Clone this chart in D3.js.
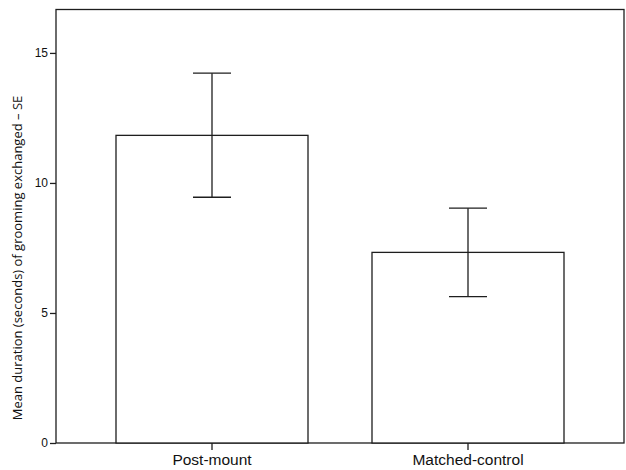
<!DOCTYPE html>
<html>
<head>
<meta charset="utf-8">
<script src="https://cdn.jsdelivr.net/npm/d3@7"></script>
<style>
  body { margin: 0; background: #fff; }
  svg { display: block; font-family: "Open Sans", "Noto Sans", sans-serif; }
</style>
</head>
<body>
<svg id="chart"></svg>
<script>
// values
var categories = ["Post-mount", "Matched-control"];
var means = [11.83, 7.33];
var seUpper = [14.22, 9.03];
var seLower = [9.45, 5.63];
var yTicks = [0, 5, 10, 15];
var yLabel = "Mean duration (seconds) of grooming exchanged \u2013 SE";

var width = 626;
var height = 470;
var frame = { left: 56, right: 624, top: 9.5, bottom: 443 };
var ink = "#1e1e1e";

var svg = d3.select("#chart").attr("width", width).attr("height", height);

var xscale = d3
  .scaleBand()
  .domain(categories)
  .range([84, 596])
  .paddingInner(0.25)
  .paddingOuter(0.125);
var yscale = d3.scaleLinear().domain([0, 16.67]).range([frame.bottom, frame.top]);

// plot frame
svg
  .append("rect")
  .attr("x", frame.left)
  .attr("y", frame.top)
  .attr("width", frame.right - frame.left)
  .attr("height", frame.bottom - frame.top)
  .attr("fill", "none")
  .attr("stroke", ink)
  .attr("stroke-width", 1.3);

// bars
svg
  .selectAll(".bar")
  .data(means)
  .enter()
  .append("rect")
  .attr("class", "bar")
  .attr("x", function (d, i) {
    return xscale(categories[i]);
  })
  .attr("y", function (d) {
    return yscale(d);
  })
  .attr("width", xscale.bandwidth())
  .attr("height", function (d) {
    return yscale(0) - yscale(d);
  })
  .attr("fill", "#fff")
  .attr("stroke", ink)
  .attr("stroke-width", 1.3);

// error bars
var capHalf = 19;
var err = svg
  .selectAll(".err")
  .data(categories)
  .enter()
  .append("g")
  .attr("class", "err")
  .attr("stroke", ink)
  .attr("stroke-width", 1.3);
err
  .append("line")
  .attr("x1", function (d) { return xscale(d) + xscale.bandwidth() / 2; })
  .attr("x2", function (d) { return xscale(d) + xscale.bandwidth() / 2; })
  .attr("y1", function (d, i) { return yscale(seUpper[i]); })
  .attr("y2", function (d, i) { return yscale(seLower[i]); });
err
  .append("line")
  .attr("x1", function (d) { return xscale(d) + xscale.bandwidth() / 2 - capHalf; })
  .attr("x2", function (d) { return xscale(d) + xscale.bandwidth() / 2 + capHalf; })
  .attr("y1", function (d, i) { return yscale(seUpper[i]); })
  .attr("y2", function (d, i) { return yscale(seUpper[i]); });
err
  .append("line")
  .attr("x1", function (d) { return xscale(d) + xscale.bandwidth() / 2 - capHalf; })
  .attr("x2", function (d) { return xscale(d) + xscale.bandwidth() / 2 + capHalf; })
  .attr("y1", function (d, i) { return yscale(seLower[i]); })
  .attr("y2", function (d, i) { return yscale(seLower[i]); });

// axes
var yaxis = d3.axisLeft(yscale).tickValues(yTicks).tickSize(6).tickPadding(2).tickFormat(d3.format("d"));
var gy = svg
  .append("g")
  .attr("transform", "translate(" + frame.left + ",0)")
  .call(yaxis);
gy.select(".domain").remove();
gy.selectAll("line").attr("stroke", ink).attr("stroke-width", 1.3);
gy.selectAll("text").style("font-size", "12px").attr("fill", "#111");

var xaxis = d3.axisBottom(xscale).tickSize(7).tickPadding(4);
var gx = svg
  .append("g")
  .attr("transform", "translate(0," + frame.bottom + ")")
  .call(xaxis);
gx.select(".domain").remove();
gx.selectAll("line").attr("stroke", ink).attr("stroke-width", 1.3);
gx.selectAll("text").style("font-size", "15.5px").attr("fill", "#111");

svg
  .append("text")
  .attr("text-anchor", "middle")
  .attr("transform", "translate(" + 22 + "," + 258 + ")rotate(-90)")
  .style("font-size", "13px")
  .attr("fill", "#111")
  .text(yLabel);
</script>
</body>
</html>
